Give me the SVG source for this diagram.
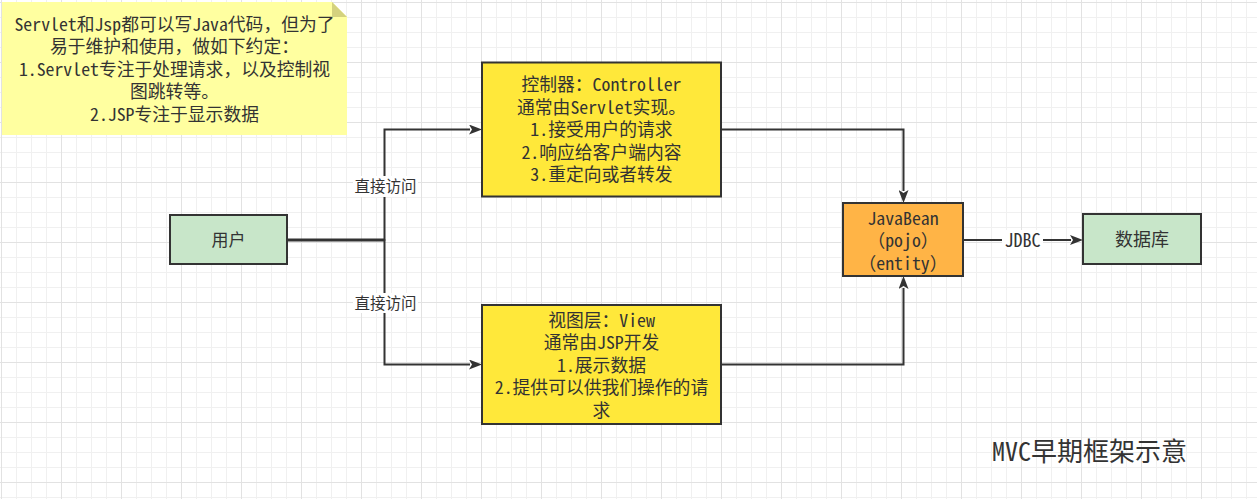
<svg xmlns="http://www.w3.org/2000/svg" width="1257" height="499" viewBox="0 0 1257 499">
<style>
.mono{font-family:"Noto Sans Mono CJK SC","Noto Sans CJK SC","Liberation Mono",monospace;font-size:17.8px;fill:#333;text-anchor:middle}
.sans{font-family:"Noto Sans CJK SC","Liberation Sans",sans-serif;fill:#333;text-anchor:middle}
.box{stroke:#333;stroke-width:2}
.edge{fill:none;stroke:#333;stroke-width:2}
.lblbg{fill:#fff}
</style>
<defs>
<pattern id="grid" patternUnits="userSpaceOnUse" x="1" y="2" width="60" height="60">
<rect width="60" height="60" fill="#fff"/>
<path d="M15.5 0V60M30.5 0V60M45.5 0V60M0 15.5H60M0 30.5H60M0 45.5H60" stroke="#f0f0f0" stroke-width="1"/>
<path d="M0.5 0V60M0 0.5H60" stroke="#e2e2e2" stroke-width="1"/>
</pattern>
<marker id="arr" viewBox="0 0 13 10" markerWidth="13" markerHeight="10" refX="1" refY="5" orient="auto" markerUnits="userSpaceOnUse">
<path d="M0,0 L13,5 L0,10 L3,5 z" fill="#333"/>
</marker>
</defs>
<rect width="1257" height="499" fill="url(#grid)"/>

<g id="note">
<path d="M2,2 H332 L347,17 V135 H2 z" fill="#ffffa0"/>
<path d="M332,2 L347,17 H332 z" fill="#d4d27e"/>
<text class="mono" x="174.5" y="30.8">Servlet和Jsp都可以写Java代码，但为了</text>
<text class="mono" x="174.5" y="53.3">易于维护和使用，做如下约定：</text>
<text class="mono" x="174.5" y="75.8">1.Servlet专注于处理请求，以及控制视</text>
<text class="mono" x="174.5" y="98.3">图跳转等。</text>
<text class="mono" x="174.5" y="120.8">2.JSP专注于显示数据</text>
</g>

<g id="connectors">
<path class="edge" d="M287,239.5 H384.5 V129.5 H470" marker-end="url(#arr)"/>
<path class="edge" d="M287,240.5 H384.5 V364.5 H470" marker-end="url(#arr)"/>
<path class="edge" d="M721,129.5 H903.5 V191" marker-end="url(#arr)"/>
<path class="edge" d="M721,364.5 H903.5 V288" marker-end="url(#arr)"/>
<path class="edge" d="M963,240 H1071" marker-end="url(#arr)"/>
<rect class="lblbg" x="353" y="176" width="65" height="21"/>
<text class="sans" x="385.5" y="192" font-size="15.5">直接访问</text>
<rect class="lblbg" x="353" y="293" width="65" height="20"/>
<text class="sans" x="385.5" y="308.5" font-size="15.5">直接访问</text>
<rect class="lblbg" x="1002" y="230" width="41" height="20"/>
<text class="mono" x="1022.5" y="246.5" style="font-size:18px">JDBC</text>
</g>

<g id="user">
<rect class="box" x="170" y="215" width="117" height="49" fill="#c8e6c9"/>
<text class="sans" x="228.5" y="246" font-size="17">用户</text>
</g>

<g id="controller">
<rect class="box" x="482" y="62.5" width="239" height="134" fill="#ffe83a"/>
<text class="mono" x="601.5" y="91.3">控制器：Controller</text>
<text class="mono" x="601.5" y="113.8">通常由Servlet实现。</text>
<text class="mono" x="601.5" y="136.3">1.接受用户的请求</text>
<text class="mono" x="601.5" y="158.8">2.响应给客户端内容</text>
<text class="mono" x="601.5" y="181.3">3.重定向或者转发</text>
</g>

<g id="view">
<rect class="box" x="482" y="305" width="239" height="119" fill="#ffe83a"/>
<text class="mono" x="601.5" y="326.8">视图层：View</text>
<text class="mono" x="601.5" y="349.3">通常由JSP开发</text>
<text class="mono" x="601.5" y="371.8">1.展示数据</text>
<text class="mono" x="601.5" y="394.3">2.提供可以供我们操作的请</text>
<text class="mono" x="601.5" y="416.8">求</text>
</g>

<g id="javabean">
<rect class="box" x="843" y="203" width="120" height="73" fill="#ffb446"/>
<text class="mono" x="903" y="225">JavaBean</text>
<text class="mono" x="903" y="247.4">（pojo）</text>
<text class="mono" x="903" y="269.6">（entity）</text>
</g>

<g id="database">
<rect class="box" x="1083" y="214" width="118" height="50" fill="#c8e6c9"/>
<text class="sans" x="1142" y="246" font-size="18">数据库</text>
</g>

<g id="title">
<text class="mono" x="992" y="461" style="font-size:26px;text-anchor:start">MVC早期框架示意</text>
</g>
</svg>
